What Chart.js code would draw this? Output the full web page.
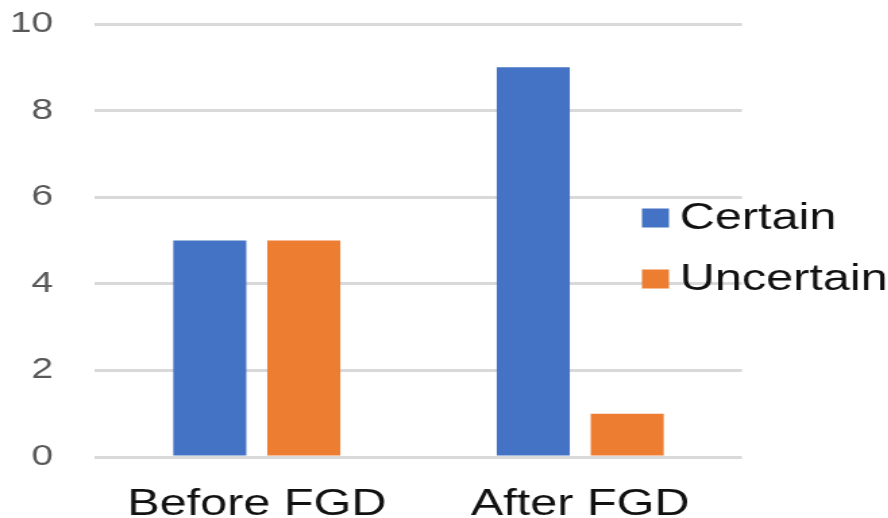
<!DOCTYPE html>
<html>
<head>
<meta charset="utf-8">
<script src="https://cdn.jsdelivr.net/npm/chart.js@4/dist/chart.umd.min.js"></script>
<style>
  html, body { margin: 0; padding: 0; background: #ffffff; overflow: hidden; }
  #wrap { width: 658px; height: 518px; transform: scaleX(1.35); transform-origin: 0 0; }
  canvas { display: block; }
</style>
</head>
<body>
<div id="wrap"><canvas id="chart" width="658" height="518"></canvas></div>
<script>
// Categories and series
const categories = ['Before FGD', 'After FGD'];
const certainValues = [5, 9];
const uncertainValues = [5, 1];
const seriesNames = ['Certain', 'Uncertain'];
const seriesColors = ['#4472C4', '#ED7D31'];

// Legend drawn to the right, overlapping the plot's right edge
const sideLegend = {
  id: 'sideLegend',
  afterDraw(chart) {
    const ctx = chart.ctx;
    const items = chart.data.datasets;
    const boxX = 475.5, boxW = 20, boxH = 19;
    const textX = 503.5;
    const rowY = [218, 279];
    ctx.save();
    ctx.font = '36px "Liberation Sans", Arial, sans-serif';
    ctx.textBaseline = 'middle';
    ctx.textAlign = 'left';
    items.forEach((ds, i) => {
      const y = rowY[i];
      ctx.fillStyle = ds.backgroundColor;
      ctx.fillRect(boxX, y - boxH / 2, boxW, boxH);
      ctx.fillStyle = '#111111';
      ctx.fillText(ds.label, textX, y + 1);
    });
    ctx.restore();
  }
};

new Chart(document.getElementById('chart'), {
  type: 'bar',
  data: {
    labels: categories,
    datasets: [
      { label: seriesNames[0], data: certainValues, backgroundColor: seriesColors[0] },
      { label: seriesNames[1], data: uncertainValues, backgroundColor: seriesColors[1] }
    ]
  },
  options: {
    responsive: false,
    animation: false,
    devicePixelRatio: 1,
    layout: { padding: { top: 24, right: 108.4, bottom: 0, left: 0 } },
    datasets: { bar: { categoryPercentage: 0.581, barPercentage: 0.777 } },
    plugins: { legend: { display: false }, tooltip: { enabled: false } },
    scales: {
      x: {
        grid: { display: false },
        border: { display: false },
        ticks: {
          color: '#111111',
          font: { family: '"Liberation Sans", Arial, sans-serif', size: 36 },
          padding: 18
        },
        afterFit(scale) { scale.height = 61; }
      },
      y: {
        min: 0,
        max: 10,
        grid: { color: '#D9D9D9', lineWidth: 3, drawTicks: false },
        border: { display: false },
        ticks: {
          stepSize: 2,
          color: '#595959',
          font: { family: '"Liberation Sans", Arial, sans-serif', size: 29 },
          padding: 31
        },
        afterFit(scale) {
          scale.width = 70.4;
          scale.paddingTop = 0;
          scale.paddingBottom = 0;
        }
      }
    }
  },
  plugins: [sideLegend]
});
</script>
</body>
</html>
